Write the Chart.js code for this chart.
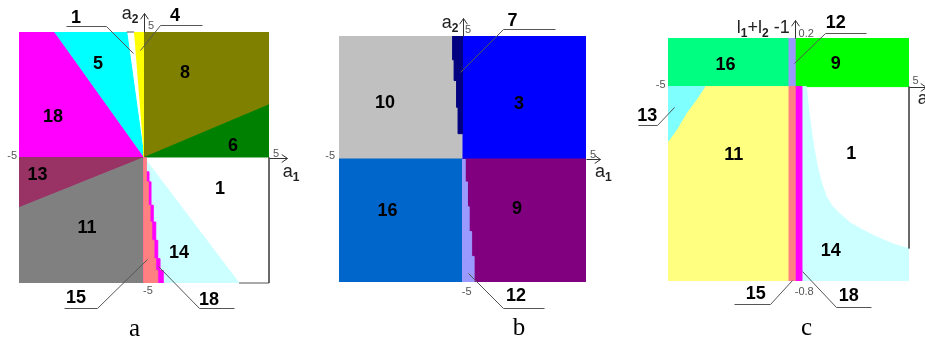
<!DOCTYPE html>
<html>
<head>
<meta charset="utf-8">
<script src="https://cdn.jsdelivr.net/npm/chart.js@4.4.0/dist/chart.umd.min.js"></script>
<style>
  html, body { margin: 0; padding: 0; background: #fff; }
  #wrap { position: relative; width: 925px; height: 340px; overflow: hidden; }
  canvas { position: absolute; left: 0; top: 0; }
</style>
</head>
<body>
<div id="wrap">
  <canvas id="pa" width="925" height="340"></canvas>
  <canvas id="pb" width="925" height="340"></canvas>
  <canvas id="pc" width="925" height="340"></canvas>
</div>
<script>
// ---- panel a: regions in the (a1, a2) plane ----
const aR18 = [[-5, 5], [-3.59, 5], [0, 0], [-5, 0]];
const aR5  = [[-3.59, 5], [-0.69, 5], [0, 0]];
const aR4  = [[-0.4, 5], [0, 5], [0, 0]];
const aR8  = [[0, 5], [5, 5], [5, 2.1], [0, 0]];
const aR6  = [[0, 0], [5, 2.1], [5, 0]];
const aR13 = [[-5, 0], [0, 0], [-5, -2]];
const aR11 = [[-5, -2], [0, 0], [0, -5], [-5, -5]];
const aR14 = [[0, 0], [3.8, -5], [0, -5]];
// stepped strips under the origin: row tops (a2) and right edges (a1)
const aRows   = [0, -0.57, -0.97, -1.9, -2.57, -3.3, -4.03, -4.5];
const aEdge15 = [0.08, 0.11, 0.17, 0.24, 0.31, 0.4, 0.47, 0.55];
const aEdge18 = [0.08, 0.2, 0.28, 0.37, 0.47, 0.55, 0.64, 0.77];
const aBorder1   = [[5, 0], [5, -5], [3.8, -5]];
const aBorderTop = [[-0.69, 5], [-0.4, 5]];

// ---- panel b ----
const bR10 = [[-5, 5], [0, 5], [0, 0], [-5, 0]];
const bR3  = [[0, 5], [5, 5], [5, 0], [0, 0]];
const bR16 = [[-5, 0], [0, 0], [0, -5], [-5, -5]];
const bR9  = [[0, 0], [5, 0], [5, -5], [0, -5]];
const bRows7  = [5, 4.03, 3.19, 2.1];
const bEdge7  = [-0.4, -0.34, -0.24, -0.18];
const bRows12 = [0, -0.93, -1.94, -2.95, -3.96];
const bEdge12 = [0.11, 0.2, 0.27, 0.37, 0.47];

// ---- panel c: a1 against l1+l2-1 ----
const cR16 = [[-5, 0.2], [0, 0.2], [0, 0], [-5, 0]];
const cR12 = [[0, 0.2], [0.3, 0.2], [0.3, 0], [0, 0]];
const cR9  = [[0.3, 0.2], [5, 0.2], [5, 0], [0.3, 0]];
const cR11 = [[-5, 0], [0, 0], [0, -0.8], [-5, -0.8]];
const cR13 = [[-5, 0], [-3.47, 0], [-3.8, -0.05], [-4.24, -0.109], [-4.65, -0.178], [-5, -0.226]];
const cR15 = [[0, 0], [0.3, 0], [0.3, -0.8], [0, -0.8]];
const cR18 = [[0.3, 0], [0.58, 0], [0.58, -0.8], [0.3, -0.8]];
const cCurve = [[0.74, 0], [0.85, -0.109], [1.05, -0.25], [1.2, -0.33], [1.35, -0.39],
                [1.57, -0.453], [1.8, -0.49], [2.12, -0.522], [2.55, -0.56], [3.09, -0.59],
                [3.5, -0.612], [3.92, -0.63], [4.35, -0.648], [4.74, -0.66], [5, -0.666]];
const cR14 = [[0.58, 0], ...cCurve, [5, -0.8], [0.58, -0.8]];
const cBorder1 = [[5, 0], [5, -0.666]];

const FONT = '"Liberation Sans", Arial, sans-serif';

// strip built from rows: spans from `base` to each row's edge
function stairs(rows, end, edges, base) {
  const pts = [[base, rows[0]], [base, end]];
  for (let i = rows.length - 1; i >= 0; i--) {
    const bottom = i + 1 < rows.length ? rows[i + 1] : end;
    pts.push([edges[i], bottom], [edges[i], rows[i]]);
  }
  return pts;
}

const poly = (pts, color) => ({
  data: pts.map(([x, y]) => ({ x, y })),
  backgroundColor: color, borderColor: color, borderWidth: 1,
  fill: 'shape', pointRadius: 0, tension: 0
});
const edge = (pts) => ({
  data: pts.map(([x, y]) => ({ x, y })),
  borderColor: '#555', borderWidth: 1, fill: false, pointRadius: 0, clip: 4
});

// annotation layout per canvas
const notes = {};

const notesPlugin = {
  id: 'notes',
  afterDraw(chart) {
    const n = notes[chart.canvas.id];
    if (!n) return;
    const { ctx } = chart;
    const X = v => chart.scales.x.getPixelForValue(v);
    const Y = v => chart.scales.y.getPixelForValue(v);
    const snap = v => Math.round(v) + 0.5;
    ctx.save();

    // axis arrows
    ctx.strokeStyle = '#333';
    ctx.lineWidth = 1;
    n.arrows.forEach(({ from, to }) => {
      const x0 = snap(X(from[0])), y0 = snap(Y(from[1]));
      const x1 = snap(X(to[0])), y1 = snap(Y(to[1]));
      const ang = Math.atan2(y1 - y0, x1 - x0);
      ctx.beginPath();
      ctx.moveTo(x0, y0);
      ctx.lineTo(x1, y1);
      ctx.moveTo(x1 - 7 * Math.cos(ang - 0.6), y1 - 7 * Math.sin(ang - 0.6));
      ctx.lineTo(x1, y1);
      ctx.lineTo(x1 - 7 * Math.cos(ang + 0.6), y1 - 7 * Math.sin(ang + 0.6));
      ctx.stroke();
    });

    // leader lines
    ctx.strokeStyle = '#555';
    n.leaders.forEach(l => {
      ctx.beginPath();
      l.line.forEach(([x, y], i) => {
        const px = snap(X(x)), py = snap(Y(y));
        i ? ctx.lineTo(px, py) : ctx.moveTo(px, py);
      });
      ctx.stroke();
    });

    // region numbers
    ctx.fillStyle = '#000';
    ctx.font = 'bold 18px ' + FONT;
    ctx.textAlign = 'center';
    ctx.textBaseline = 'middle';
    n.labels.concat(n.leaders.map(l => [l.t, l.at[0], l.at[1]]))
      .forEach(([t, x, y]) => ctx.fillText(t, X(x), Y(y)));

    // axis titles with subscripts
    ctx.textBaseline = 'alphabetic';
    ctx.textAlign = 'left';
    ctx.fillStyle = '#222';
    n.titles.forEach(({ parts, x, y, align }) => {
      const fonts = parts.map(([, sub]) => sub ? 'bold 12px ' + FONT : '18px ' + FONT);
      let w = 0;
      parts.forEach(([s], i) => { ctx.font = fonts[i]; w += ctx.measureText(s).width; });
      let px = X(x) - (align === 'right' ? w : 0);
      const py = Y(y);
      parts.forEach(([s, sub], i) => {
        ctx.font = fonts[i];
        ctx.fillText(s, px, py + (sub ? 4 : 0));
        px += ctx.measureText(s).width;
      });
    });

    // tick values
    ctx.font = '11px ' + FONT;
    ctx.fillStyle = '#555';
    n.ticks.forEach(([t, x, y, align]) => {
      ctx.textAlign = align;
      ctx.fillText(t, X(x), Y(y));
    });

    // panel letter
    ctx.font = '25px "Liberation Serif", "Times New Roman", serif';
    ctx.fillStyle = '#000';
    ctx.textAlign = 'center';
    ctx.fillText(n.caption[0], X(n.caption[1]), Y(n.caption[2]));
    ctx.restore();
  }
};

function panel(id, padding, yRange, datasets) {
  return new Chart(document.getElementById(id), {
    type: 'line',
    // later regions are painted over earlier ones
    data: { datasets: datasets.map((d, i) => ({ ...d, order: -i })) },
    options: {
      responsive: false,
      animation: false,
      events: [],
      layout: { padding },
      plugins: { legend: { display: false }, tooltip: { enabled: false } },
      scales: {
        x: { type: 'linear', min: -5, max: 5, display: false },
        y: { type: 'linear', min: yRange[0], max: yRange[1], display: false }
      }
    },
    plugins: [notesPlugin]
  });
}

notes.pa = {
  labels: [['5', -1.84, 3.72], ['8', 1.64, 3.38], ['18', -3.64, 1.6], ['6', 3.56, 0.46],
           ['13', -4.26, -0.7], ['1', 3.04, -1.26], ['11', -2.28, -2.8], ['14', 1.4, -3.8]],
  leaders: [
    { t: '1',  at: [-2.72, 5.56], line: [[-3.12, 5.23], [-1.52, 5.23], [-0.44, 4.18]] },
    { t: '4',  at: [1.24, 5.64],  line: [[2.32, 5.27], [0.64, 5.27], [-0.16, 4.3]] },
    { t: '15', at: [-2.72, -5.6], line: [[-3.2, -5.99], [-1.88, -5.99], [0.11, -4.03]] },
    { t: '18', at: [2.6, -5.66],  line: [[3.6, -6.01], [2.2, -6.01], [0.57, -4.34]] }
  ],
  arrows: [{ from: [0, 5], to: [0, 5.74] }, { from: [5, 0], to: [5.72, 0] }],
  titles: [{ parts: [['a'], ['2', true]], x: -0.89, y: 5.5 },
           { parts: [['a'], ['1', true]], x: 5.55, y: -0.77 }],
  ticks: [['5', 0.16, 5.1, 'left'], ['5', 5.16, 0.02, 'left'],
          ['-5', -5.08, -0.06, 'right'], ['-5', -0.04, -5.42, 'left']],
  caption: ['a', -0.38, -7.1]
};

notes.pb = {
  labels: [['10', -3.14, 2.27], ['3', 2.29, 2.23], ['16', -3.04, -2.1], ['9', 2.21, -2.04]],
  leaders: [
    { t: '7',  at: [2.02, 5.6],   line: [[3.74, 5.3], [1.64, 5.3], [-0.1, 3.54]] },
    { t: '12', at: [2.17, -5.56], line: [[3.28, -6.04], [1.64, -6.04], [0.23, -4.65]] }
  ],
  arrows: [{ from: [0, 5], to: [0, 5.72] }, { from: [5, 0], to: [5.57, 0] }],
  titles: [{ parts: [['a'], ['2', true]], x: -0.84, y: 5.32 },
           { parts: [['a'], ['1', true]], x: 5.36, y: -0.72 }],
  ticks: [['5', 0.1, 5.11, 'left'], ['5', 5.16, 0.03, 'left'],
          ['-5', -5.16, 0, 'right'], ['-5', -0.03, -5.54, 'left']],
  caption: ['b', 2.29, -7.16]
};

notes.pc = {
  labels: [['16', -2.61, 0.088], ['9', 1.96, 0.092], ['11', -2.27, -0.281],
           ['1', 2.6, -0.277], ['14', 1.75, -0.675]],
  leaders: [
    { t: '12', at: [1.96, 0.263],   line: [[3.2, 0.221], [1.5, 0.221], [0.22, 0.097]] },
    { t: '13', at: [-5.86, -0.123], line: [[-6.26, -0.158], [-5.47, -0.158], [-4.76, -0.083]] },
    { t: '15', at: [-1.36, -0.855], line: [[-2.27, -0.896], [-0.78, -0.896], [0.16, -0.794]] },
    { t: '18', at: [2.5, -0.861],   line: [[3.44, -0.907], [1.99, -0.907], [0.54, -0.759]] }
  ],
  arrows: [{ from: [0.29, 0.2], to: [0.29, 0.273] }, { from: [5, 0], to: [5.7, 0] }],
  titles: [{ parts: [['l'], ['1', true], ['+l'], ['2', true], [' -1']], x: 0.05, y: 0.222, align: 'right' },
           { parts: [['a'], ['1', true]], x: 5.36, y: -0.07 }],
  ticks: [['0.2', 0.42, 0.205, 'left'], ['5', 5.15, 0.012, 'left'],
          ['-5', -5.1, -0.005, 'right'], ['-0.8', 0.26, -0.859, 'left']],
  caption: ['c', 0.75, -1.024]
};

panel('pa', { left: 19, right: 656, top: 32, bottom: 57 }, [-5, 5], [
  poly(aR18, '#ff00ff'), poly(aR5, '#00ffff'), poly(aR4, '#ffff00'),
  poly(aR8, '#808000'), poly(aR6, '#008000'), poly(aR13, '#993366'),
  poly(aR11, '#808080'), poly(aR14, '#ccffff'),
  poly(stairs(aRows, -5, aEdge18, 0), '#ff00ff'),
  poly(stairs(aRows, -5, aEdge15, 0), '#ff8080'),
  edge(aBorder1), edge(aBorderTop)
]);

panel('pb', { left: 339, right: 339, top: 36, bottom: 58 }, [-5, 5], [
  poly(bR10, '#c0c0c0'), poly(bR3, '#0000ff'), poly(bR16, '#0066cc'), poly(bR9, '#800080'),
  poly(stairs(bRows7, 1.03, bEdge7, 0), '#000080'),
  poly(stairs(bRows12, -5, bEdge12, 0), '#9999ff')
]);

panel('pc', { left: 668, right: 16, top: 38, bottom: 59 }, [-0.8, 0.2], [
  poly(cR16, '#00ff80'), poly(cR12, '#9999ff'), poly(cR9, '#00ff00'),
  poly(cR11, '#ffff80'), poly(cR13, '#80ffff'),
  poly(cR15, '#ff8080'), poly(cR18, '#ff00ff'), poly(cR14, '#ccffff'),
  edge(cBorder1)
]);
</script>
</body>
</html>
